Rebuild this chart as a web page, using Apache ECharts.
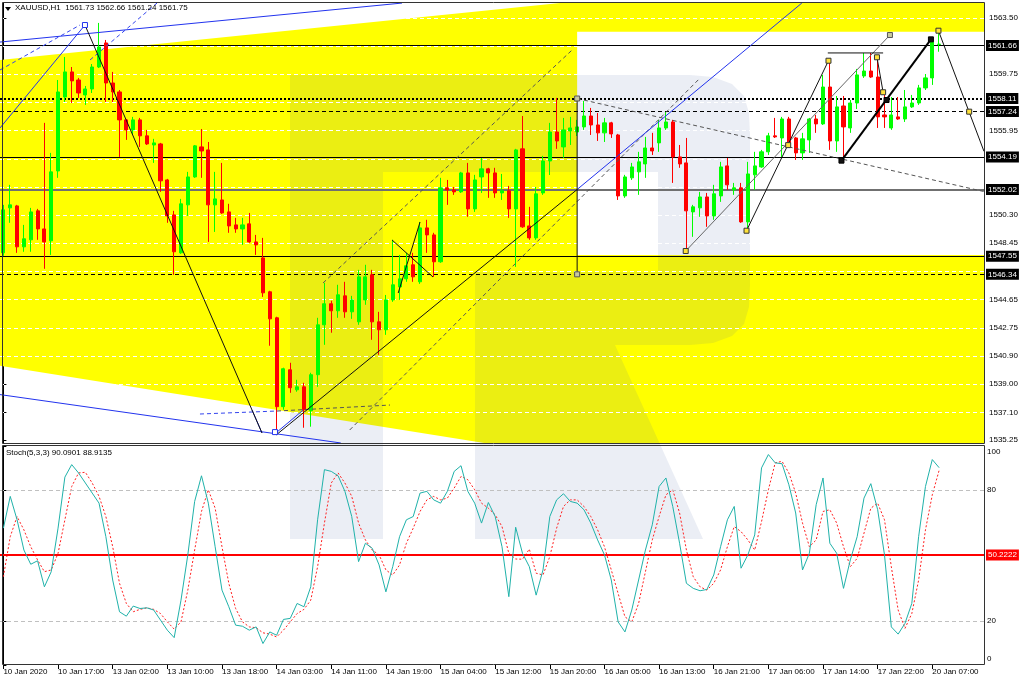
<!DOCTYPE html>
<html><head><meta charset="utf-8">
<script src="https://cdn.jsdelivr.net/npm/echarts@6/dist/echarts.min.js"></script>
<style>html,body{margin:0;padding:0;background:#fff}#c{width:1024px;height:683px}</style>
</head><body><div id="c"></div>
<script>
const FONT = 'Liberation Sans, Arial, sans-serif';
const symbolTitle = 'XAUUSD,H1  1561.73 1562.66 1561.24 1561.75';
const stochTitle = 'Stoch(5,3,3) 90.0901 88.9135';

const opens = [1547.78,1550.79,1550.92,1548.18,1548.65,1550.59,1549.38,1548.58,1553.26,1558.21,
1559.89,1559.35,1558.35,1558.75,1560.22,1561.83,1559.15,1558.55,1556.68,1556.01,
1556.68,1555.61,1555.00,1555.07,1552.66,1550.32,1547.78,1550.99,1552.86,1554.87,
1554.67,1550.99,1551.32,1550.52,1549.65,1549.38,1549.72,1548.51,1547.44,1545.17,
1543.43,1537.48,1539.95,1538.61,1538.81,1537.21,1539.62,1542.96,1544.37,1543.90,
1544.90,1543.83,1543.16,1544.63,1546.31,1543.16,1542.63,1544.63,1545.50,1546.04,
1546.98,1545.84,1549.45,1548.98,1547.18,1552.13,1551.99,1551.86,1553.13,1550.72,
1552.86,1553.40,1553.13,1551.79,1551.93,1550.72,1554.74,1549.58,1548.78,1551.79,
1553.93,1555.87,1554.87,1555.94,1555.87,1556.21,1556.94,1556.34,1555.81,1556.48,
1555.67,1551.59,1552.80,1553.20,1553.73,1554.80,1555.14,1556.14,1556.54,1554.20,
1553.80,1550.52,1550.79,1551.52,1550.25,1551.59,1553.60,1551.99,1552.13,1549.85,
1553.00,1553.53,1554.54,1555.61,1555.47,1556.74,1555.47,1554.47,1555.34,1556.74,
1556.41,1558.88,1555.27,1557.61,1556.14,1557.81,1559.62,1559.95,1559.55,1557.01,
1556.14,1556.88,1556.74,1557.55,1557.81,1558.82,1559.49,1561.73];
const highs = [1550.99,1552.33,1550.99,1549.65,1550.79,1550.72,1556.48,1554.47,1559.35,1560.89,
1560.22,1559.49,1558.95,1560.42,1563.17,1562.03,1559.89,1558.68,1556.74,1556.88,
1556.81,1556.01,1555.41,1555.14,1552.73,1550.59,1551.39,1553.20,1555.00,1556.07,
1555.20,1553.20,1553.80,1551.06,1550.12,1550.12,1550.45,1548.98,1548.78,1545.24,
1543.50,1540.09,1540.42,1539.28,1539.08,1539.75,1543.43,1545.77,1544.57,1545.64,
1545.84,1544.90,1546.64,1546.98,1546.64,1543.83,1544.96,1548.65,1547.64,1547.78,
1547.78,1549.85,1549.99,1549.12,1552.80,1552.66,1552.19,1553.20,1553.80,1553.00,
1554.13,1553.47,1553.47,1553.06,1552.26,1554.74,1556.94,1550.86,1552.19,1554.27,
1556.48,1558.15,1556.81,1556.88,1556.68,1557.95,1557.48,1557.14,1556.81,1556.55,
1555.74,1553.00,1553.80,1554.54,1555.54,1555.81,1556.68,1557.21,1556.68,1555.00,
1555.47,1550.99,1551.86,1551.79,1552.33,1553.87,1554.13,1552.46,1552.46,1553.87,
1554.54,1554.67,1555.81,1556.81,1556.88,1556.88,1555.54,1555.81,1556.81,1557.01,
1559.69,1560.69,1558.28,1558.28,1558.01,1560.09,1561.16,1561.16,1561.02,1558.35,
1558.21,1558.21,1558.68,1558.35,1559.02,1559.75,1562.23,1562.66];
const lows = [1547.58,1549.79,1547.78,1547.85,1547.85,1548.65,1546.71,1547.64,1552.80,1557.88,
1557.81,1558.15,1557.68,1558.48,1560.15,1557.88,1557.88,1554.20,1555.34,1555.67,
1554.87,1555.00,1553.80,1551.86,1549.79,1546.31,1547.71,1550.25,1552.80,1552.80,
1548.51,1549.18,1550.39,1549.12,1549.12,1548.31,1548.45,1547.64,1544.83,1541.56,
1535.74,1537.28,1538.41,1538.48,1536.07,1536.14,1538.81,1541.62,1542.43,1543.43,
1543.43,1543.36,1542.96,1544.30,1541.96,1540.95,1542.29,1544.50,1544.63,1545.84,
1545.84,1545.70,1547.78,1546.17,1547.11,1550.99,1551.66,1551.79,1550.19,1550.52,
1551.79,1551.46,1551.46,1551.32,1550.12,1546.84,1549.45,1548.65,1548.65,1551.66,
1552.99,1554.74,1554.13,1555.00,1555.60,1556.01,1555.67,1555.27,1555.20,1555.47,
1551.32,1551.46,1552.66,1551.66,1552.80,1554.33,1554.54,1556.01,1552.46,1553.47,
1547.91,1548.85,1550.19,1549.52,1549.99,1551.19,1551.99,1551.66,1549.79,1549.32,
1551.99,1553.47,1554.33,1555.47,1554.20,1555.00,1554.00,1554.00,1554.47,1555.81,
1556.34,1554.67,1554.54,1553.87,1555.81,1557.41,1559.49,1559.49,1556.14,1556.14,
1556.01,1556.68,1556.54,1557.48,1557.68,1558.68,1559.02,1561.24];
const closes = [1550.66,1550.99,1548.18,1548.72,1550.52,1549.38,1548.51,1553.20,1558.55,1559.89,
1559.29,1558.48,1558.75,1560.22,1561.56,1559.15,1558.55,1556.68,1556.01,1556.68,
1555.61,1555.07,1555.14,1552.60,1550.25,1547.85,1551.06,1552.86,1554.94,1554.60,
1550.99,1551.39,1550.45,1549.58,1549.38,1549.65,1548.51,1548.31,1545.10,1543.36,
1537.48,1540.02,1538.75,1538.81,1537.28,1539.62,1542.96,1544.37,1543.90,1544.97,
1543.83,1544.63,1546.17,1546.17,1543.16,1542.63,1544.63,1545.64,1546.04,1546.91,
1546.17,1549.45,1548.98,1547.18,1552.13,1551.99,1551.86,1553.13,1550.72,1552.66,
1553.40,1553.13,1551.79,1551.93,1550.72,1554.67,1549.52,1548.78,1551.73,1553.93,
1555.87,1555.27,1556.01,1556.14,1556.21,1556.94,1556.34,1555.81,1556.48,1555.74,
1551.59,1552.86,1553.53,1553.87,1554.80,1554.60,1556.14,1556.54,1554.20,1553.73,
1550.59,1550.86,1551.52,1550.25,1551.73,1553.53,1552.33,1552.13,1549.85,1553.06,
1553.60,1554.54,1555.61,1555.54,1556.74,1555.14,1554.47,1555.41,1556.74,1556.41,
1558.88,1555.27,1557.55,1556.21,1557.81,1559.69,1559.95,1559.55,1556.88,1556.88,
1557.01,1556.74,1557.55,1557.81,1558.82,1559.49,1561.89,1561.75];

const stochK = [62.5,77,66.3,52.5,46,47.6,35.7,42.6,62.5,85.8,
91.5,87.7,83.1,78.5,73.9,58.6,38.8,24.3,22.3,26.9,
25.8,26.1,25.1,20.5,15.9,12.5,29.6,50.3,74.7,86.4,
73.9,54,34.2,26.6,18.2,17.7,15.9,17.4,9.8,15.1,
13.6,20.8,21.3,28.1,26.6,35.7,66.3,89.2,88.4,86.4,
79.3,67.8,47.2,55.6,53.3,45.7,33.4,44.9,58.6,66.3,
67.8,78.5,79.3,75.4,73.9,79.3,88.4,91,79.3,73.9,
64.8,74.2,67.8,54,31.2,62.9,51,44.9,31.9,43.4,
67.8,75.4,78.2,74.7,73.9,70.9,64.8,57.1,50.3,38.8,
19.7,15.1,25.1,38.8,52.5,64,81.5,85.4,72.4,55.6,
37.3,35,33.9,34.5,41.1,54,66.3,72.4,44.2,50.3,
59.4,90,96.1,92.3,91.9,82.3,69.4,43.4,51,73.2,
85.4,55.6,51,35,48,58.6,76.2,82.8,70.9,50.3,
17.4,14.1,19,28.1,58.6,81.5,93.8,90.09];
const stochD = [40.3,58.6,67.8,61.7,54,48,42.6,43.4,51,66.3,
81.5,87.7,88,83.1,77,67.8,54,37.3,28.1,24.3,
25.4,26.1,25.4,23.5,19.7,16.4,19.7,34.2,52.5,70.1,
80,71.6,54,37.3,25.8,19.7,17.4,17,14.7,14.1,
12.8,15.9,19.7,23.5,25.4,29.6,44.9,64.8,83.1,87.7,
83.1,77,64.8,57.1,52.5,50.3,43.4,41.1,45.7,55.6,
62.5,70.1,75.4,77,75.4,76.2,80.8,86.1,84.6,80,
73.9,71.6,68.6,63.2,51,48.4,48.3,52.9,41.9,41.1,
49.5,62.5,72.4,75.4,75.4,72.4,67.8,61.7,54,43.4,
32.7,22,19.7,28.1,42.6,57.1,67.8,77.7,80,69.4,
52.5,40.3,35.7,34.2,37.3,43.4,54,63.2,60.9,57.1,
52.5,65.5,80,92.3,93,87.7,78.5,64.8,54,57.1,
70.1,70.9,64.8,54,44.9,48.7,60.2,71.6,73.9,66.3,
44.9,25.1,16.7,23.5,38.8,61.7,77.7,88.91];

const tickBars = [0,8,16,24,32,40,48,56,64,72,80,88,96,104,112,120,128,136];
const tickLabels = ['10 Jan 2020','10 Jan 17:00','13 Jan 02:00','13 Jan 10:00','13 Jan 18:00','14 Jan 03:00','14 Jan 11:00','14 Jan 19:00','15 Jan 04:00','15 Jan 12:00','15 Jan 20:00','16 Jan 05:00','16 Jan 13:00','16 Jan 21:00','17 Jan 06:00','17 Jan 14:00','17 Jan 22:00','20 Jan 07:00'];
const priceLabels = [1563.50,1559.75,1555.95,1550.30,1548.45,1544.65,1542.75,1540.90,1539.00,1537.10,1535.25];
const priceGrid = [1537.13,1539.02,1540.90,1542.78,1544.67,1546.55,1548.43,1550.32,1552.20,1554.08,1555.97,1557.85,1559.73,1561.62,1563.50];
const stochTicks = [0,20,80,100];
const stochLevels = [80,20];
const stochRedLevel = [50.2222];

const solidLevels = [1561.66,1554.19,1547.55];
const dottedLevels = [1558.11];
const dashedLevels = [1557.24,1546.34];
const greyLevels = [1552.02];

const yellowZone = [[-0.5,1560.69],[81.5,1564.50],[143.6,1564.50],[143.6,1535.05],[70.4,1535.05],[-0.5,1540.22]];
const whiteZone = [[84,1562.58],[143.6,1547.64]];

const blueSolidSegs = [[-0.5,1561.89,58.36,1564.50],[-0.5,1556.14,11.94,1563.03],[84,1552.02,116.9,1564.50],[-0.5,1538.29,49.4,1535.05],[36.4,1537.26,37.86,1535.72],[39.9,1535.72,43.9,1537.26]];
const blueDashedSegs = [[-0.5,1560.02,11.21,1563.03],[12.68,1560.69,22.49,1564.50],[28.78,1536.99,40.06,1537.19]];
const blackSegs = [[11.94,1563.03,37.86,1535.72],[39.91,1535.58,84,1552.02],[56.9,1548.64,62.9,1546.16],[57.8,1545.09,61.0,1549.84],[84,1558.11,84,1546.34],[108.8,1549.26,120.8,1560.64],[136.9,1562.65,143.57,1554.57],[120.7,1561.16,128.8,1561.16],[127.9,1560.87,128.8,1558.53]];
const greySegs = [[99.9,1547.90,129.8,1562.36]];
const boldSegs = [[122.7,1553.95,135.8,1562.07]];
const dashedSegs = [[46.8,1545.76,83.25,1561.35],[50.7,1535.92,102.0,1559.48],[84,1558.11,143.57,1551.88],[40.06,1537.19,56.6,1537.59]];

const yellowMarks = [[99.9,1547.90],[108.8,1549.26],[114.9,1554.99],[120.8,1560.64],[127.9,1560.87],[128.8,1558.53],[136.9,1562.65],[141.4,1557.23]];
const greyMarks = [[129.8,1562.36],[84,1558.11],[84,1546.34]];
const blackMarks = [[122.7,1553.95],[129.3,1558.01],[135.8,1562.07]];
const blueMarks = [[11.94,1563.03],[39.76,1535.78]];

// watermark logo outline (pixel space, decorative)
const logoOutline = [[290,75],[690,75],[713,77],[732,84],[744,96],[749,113],[750,135],[750,285],[749,307],[744,324],[732,336],[713,343],[690,345],[615,345],[703,539],[475,539],[475,272],[658,272],[658,172],[383,172],[383,539],[290,539]];

const chart = echarts.init(document.getElementById('c'), null, {renderer:'canvas'});

function segSeries(segs, style, z){
  return {type:'custom', xAxisIndex:0, yAxisIndex:0, z:z, silent:true, data:segs,
    renderItem:function(params, api){
      const p1 = api.coord([api.value(0), api.value(1)]);
      const p2 = api.coord([api.value(2), api.value(3)]);
      return {type:'line', shape:{x1:p1[0],y1:p1[1],x2:p2[0],y2:p2[1]}, style:Object.assign({fill:null}, style)};
    }};
}
function markSeries(pts, fill, stroke, z){
  return {type:'scatter', xAxisIndex:0, yAxisIndex:0, z:z, silent:true, symbol:'rect', symbolSize:5,
    data:pts, itemStyle:{color:fill, borderColor:stroke, borderWidth:1, opacity:1}};
}
function levelItems(vals, style){
  return vals.map(v => ({yAxis:v, lineStyle:style}));
}
const boxLabel = {show:true, position:'end', distance:2, formatter:p => Number(p.value).toFixed(2),
  backgroundColor:'#000', color:'#fff', padding:[2,2,1,2], fontSize:8, fontFamily:FONT};

const option = {
  animation:false,
  backgroundColor:'#ffffff',
  grid:[
    {left:0, top:3, width:984, height:440, show:false},
    {left:0, top:446, width:984, height:219, show:false}
  ],
  xAxis:[
    {gridIndex:0, type:'value', min:-0.5, max:143.57, show:false},
    {gridIndex:1, type:'value', min:-0.5, max:143.57,
      axisLine:{show:false}, splitLine:{show:false},
      axisTick:{show:true, customValues:tickBars, length:4, lineStyle:{color:'#000'}},
      axisLabel:{customValues:tickBars, formatter:v => {const k = tickBars.indexOf(v); return k >= 0 ? tickLabels[k] : '';},
        align:'left', color:'#000', fontSize:8, fontFamily:FONT, margin:3}}
  ],
  yAxis:[
    {gridIndex:0, type:'value', position:'right', min:1535.049, max:1564.504,
      axisLine:{show:true, lineStyle:{color:'#000'}}, splitLine:{show:false},
      axisTick:{show:true, customValues:priceLabels, length:3, lineStyle:{color:'#000'}},
      axisLabel:{customValues:priceLabels, formatter:v => v.toFixed(2), color:'#000', fontSize:8, fontFamily:FONT, margin:5}},
    {gridIndex:1, type:'value', position:'right', min:0, max:100,
      axisLine:{show:true, lineStyle:{color:'#000'}}, splitLine:{show:false},
      axisTick:{show:true, customValues:stochTicks, length:3, lineStyle:{color:'#000'}},
      axisLabel:{customValues:stochTicks, color:'#000', fontSize:8, fontFamily:FONT, margin:3,
        formatter:v => v === 100 ? '{t|100}' : (v === 0 ? '{b|0}' : String(v)),
        rich:{t:{padding:[12,0,0,0], fontSize:8, fontFamily:FONT, color:'#000'}, b:{padding:[0,0,12,0], fontSize:8, fontFamily:FONT, color:'#000'}}}}
  ],
  graphic:[
    {type:'polygon', z:2, silent:true, shape:{points:logoOutline}, style:{fill:'rgba(70,100,160,0.11)'}},
    {type:'rect', z:20, silent:true, shape:{x:2.5, y:2.5, width:982, height:441}, style:{fill:null, stroke:'#333', lineWidth:1}},
    {type:'rect', z:20, silent:true, shape:{x:2.5, y:445.5, width:982, height:219}, style:{fill:null, stroke:'#333', lineWidth:1}},
    {type:'polygon', z:21, silent:true, shape:{points:[[5,7],[11,7],[8,11]]}, style:{fill:'#000'}},
    {type:'text', z:21, silent:true, x:15, y:4, style:{text:symbolTitle, fill:'#000', font:'8px ' + FONT}},
    {type:'text', z:21, silent:true, x:6, y:449, style:{text:stochTitle, fill:'#000', font:'8px ' + FONT}}
  ],
  series:[
    {type:'custom', xAxisIndex:0, yAxisIndex:0, z:1, silent:true, data:[[0,1550]],
      renderItem:function(params, api){
        const poly = yellowZone.map(p => api.coord(p));
        const a = api.coord(whiteZone[0]), b = api.coord(whiteZone[1]);
        return {type:'group', children:[
          {type:'polygon', shape:{points:poly}, style:{fill:'#ffff00'}},
          {type:'rect', shape:{x:a[0], y:a[1], width:b[0]-a[0], height:b[1]-a[1]}, style:{fill:'#ffffff'}}
        ]};
      }},
    {type:'custom', xAxisIndex:0, yAxisIndex:0, z:3, silent:true, data:priceGrid.map(v => [0, v]),
      renderItem:function(params, api){
        const p = api.coord([api.value(0), api.value(1)]);
        const y = Math.round(p[1]) + 0.5;
        return {type:'line', shape:{x1:params.coordSys.x, y1:y, x2:params.coordSys.x + params.coordSys.width, y2:y},
          style:{stroke:'#ffffff', lineWidth:1, lineDash:[4,3]}};
      }},
    {type:'candlestick', xAxisIndex:0, yAxisIndex:0, z:5, silent:true, barWidth:3.6,
      data:opens.map((o,i) => [i, o, closes[i], lows[i], highs[i]]),
      encode:{x:0, y:[1,2,3,4]},
      itemStyle:{color:'#00ff00', color0:'#ff0000', borderColor:'#00ff00', borderColor0:'#ff0000', borderWidth:1}},
    segSeries(dashedSegs, {stroke:'#555', lineWidth:1, lineDash:[4,3]}, 6),
    segSeries(blueSolidSegs, {stroke:'#2233ee', lineWidth:1}, 6),
    segSeries(blueDashedSegs, {stroke:'#3344ee', lineWidth:1, lineDash:[4,3]}, 6),
    segSeries(greySegs, {stroke:'#666', lineWidth:1}, 6),
    segSeries(blackSegs, {stroke:'#111', lineWidth:1}, 6),
    segSeries(boldSegs, {stroke:'#000', lineWidth:2}, 6),
    {type:'line', xAxisIndex:0, yAxisIndex:0, z:7, silent:true, data:[[0,1550]], showSymbol:false, symbol:'none', lineStyle:{opacity:0},
      markLine:{silent:true, precision:2, symbol:['none','none'], label:boxLabel,
        data:[].concat(
          levelItems(solidLevels, {color:'#000', width:1, type:'solid'}),
          levelItems(dottedLevels, {color:'#000', width:2, type:[2,2]}),
          levelItems(dashedLevels, {color:'#000', width:1, type:[4,3]}),
          levelItems(greyLevels, {color:'#707070', width:2, type:'solid'})
        )}},
    markSeries(yellowMarks, '#ffe23a', '#333', 8),
    markSeries(greyMarks, '#c8c8a0', '#555', 8),
    markSeries(blackMarks, '#111', '#000', 8),
    markSeries(blueMarks, '#ffffff', '#2233ee', 8),
    {type:'line', xAxisIndex:1, yAxisIndex:1, z:4, silent:true, showSymbol:false, symbol:'none',
      data:stochD.map((v,i) => [i, v]), lineStyle:{color:'#ff2020', width:1, type:[2,2]},
      markLine:{silent:true, precision:4, symbol:['none','none'],
        data:[].concat(
          stochLevels.map(v => ({yAxis:v, lineStyle:{color:'#c0c0c0', width:1, type:[4,3]}, label:{show:false}})),
          stochRedLevel.map(v => ({yAxis:v, lineStyle:{color:'#ff0000', width:2, type:'solid'},
            label:{show:true, position:'end', distance:2, formatter:() => v.toFixed(4), backgroundColor:'#ff0000', color:'#fff', padding:[2,2,1,2], fontSize:8, fontFamily:FONT}}))
        )}},
    {type:'line', xAxisIndex:1, yAxisIndex:1, z:5, silent:true, showSymbol:false, symbol:'none',
      data:stochK.map((v,i) => [i, v]), lineStyle:{color:'#20b2aa', width:1}}
  ]
};
chart.setOption(option);
</script></body></html>
